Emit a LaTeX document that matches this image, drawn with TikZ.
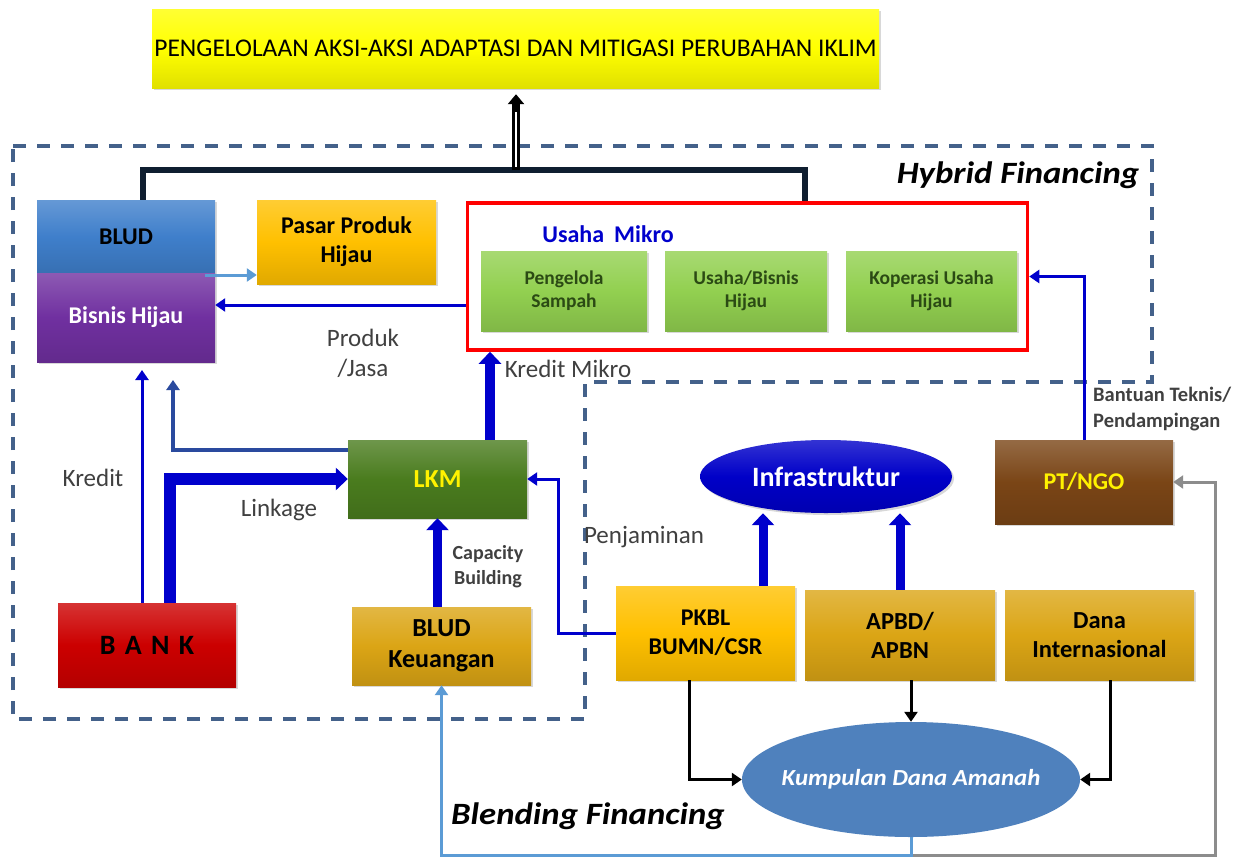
\documentclass[tikz,border=0pt]{standalone}
\usepackage{fontspec}
\usepackage{graphicx}
\setmainfont{Carlito}
\usetikzlibrary{arrows.meta,shapes.geometric,shadows}
\newcommand{\fsz}[2]{\fontsize{#1}{#2}\selectfont}
\definecolor{cBanner}{HTML}{FFFF00}
\definecolor{cBlud}{HTML}{3F7FCB}
\definecolor{cPurple}{HTML}{7030A0}
\definecolor{cGold}{HTML}{FFC000}
\definecolor{cDGold}{HTML}{DBA515}
\definecolor{cLGreen}{HTML}{92D050}
\definecolor{cGText}{HTML}{2B4A14}
\definecolor{cLkm}{HTML}{4A7C1E}
\definecolor{cBank}{HTML}{CC0000}
\definecolor{cBrown}{HTML}{7A4516}
\definecolor{cInfra}{HTML}{0000C8}
\definecolor{cKda}{HTML}{4F81BD}
\definecolor{cArrow}{HTML}{0000CC}
\definecolor{cSlate}{HTML}{2A4A9E}
\definecolor{cDash}{HTML}{44618A}
\definecolor{cBus}{HTML}{0F1E30}
\definecolor{cLBlue}{HTML}{5B9BD5}
\definecolor{cGray}{HTML}{8C8C8C}
\definecolor{cText}{HTML}{404040}
\definecolor{cRed}{HTML}{FF0000}
\definecolor{cTitle}{HTML}{0000CC}
\tikzset{
  bev/.style={top color=#1!80!white, bottom color=#1!88!black, middle color=#1},
  box/.style={rectangle, inner sep=0pt, align=center, text=black,
    font=\fsz{24}{29}, drop shadow={shadow xshift=2pt, shadow yshift=-2pt, opacity=0.3}},
  bbox/.style={box, font=\bfseries\fsz{24}{29}},
  gbox/.style={box, bev=cLGreen, font=\bfseries\fsz{19.5}{23}, text=cGText,
    minimum height=80pt},
  lab/.style={inner sep=0pt, align=center, text=cText, font=\fsz{25}{30}},
  fat/.style={draw=cArrow, line width=10pt, -{Triangle[length=12pt,width=22pt]}},
  thinarr/.style={draw=cArrow, line width=3pt, -{Triangle[length=10pt,width=13pt]}},
  slatearr/.style={draw=cSlate, line width=3.5pt, -{Triangle[length=10pt,width=13pt]}},
  blk/.style={draw=black, line width=3pt, -{Triangle[length=10pt,width=13pt]}},
  lbarr/.style={draw=cLBlue, line width=3pt, -{Triangle[length=10pt,width=13pt]}},
  grarr/.style={draw=cGray, line width=3pt, -{Triangle[length=10pt,width=13pt]}},
  busline/.style={draw=cBus, line width=6pt},
  dashbox/.style={draw=cDash, line width=3.2pt, dash pattern=on 13pt off 11pt}
}
\begin{document}
\begin{tikzpicture}[x=1pt,y=-1pt]
\useasboundingbox (0,0) rectangle (1253,857);
\fill[white] (0,0) rectangle (1253,857);

% dashed region
\draw[dashbox] (13,146) -- (1152,146) -- (1152,382) -- (585,382) -- (585,719) -- (13,719) -- cycle;

% nodes
\node[box, bev=cBanner, minimum width=727pt, minimum height=79pt, font=\fsz{25.5}{30}] (banner) at (515.5,48.5)
  {PENGELOLAAN AKSI-AKSI ADAPTASI DAN MITIGASI PERUBAHAN IKLIM};
\node[bbox, bev=cBlud, minimum width=178pt, minimum height=73pt] (blud) at (126,236.5) {BLUD};
\node[bbox, bev=cPurple, text=white, minimum width=178pt, minimum height=89pt] (bisnis) at (126,317.5) {Bisnis Hijau};
\node[bbox, bev=cGold, minimum width=179pt, minimum height=84pt] (pasar) at (346.5,242) {Pasar Produk\\Hijau};
\node[rectangle, draw=cRed, line width=3.5pt, fill=white, minimum width=560pt, minimum height=147pt] (um) at (747.5,276.5) {};
\node[inner sep=0pt, text=cTitle, font=\bfseries\fsz{24}{28}] (umtitle) at (608,234) {Usaha\hspace{10pt}Mikro};
\node[gbox, minimum width=166pt] (g1) at (564,291) {Pengelola\\Sampah};
\node[gbox, minimum width=162pt] (g2) at (746,291) {Usaha/Bisnis\\Hijau};
\node[gbox, minimum width=171pt] (g3) at (931.5,291) {Koperasi Usaha\\Hijau};
\node[bbox, bev=cLkm, text=yellow, minimum width=179pt, minimum height=78pt, font=\bfseries\fsz{26}{30}] (lkm) at (437.5,479) {LKM};
\node[bbox, bev=cBank, minimum width=178pt, minimum height=84pt, font=\bfseries\fsz{28}{32}] (bank) at (147,645) {B\,\,A\,\,N\,\,K};
\node[bbox, bev=cDGold, minimum width=179pt, minimum height=78pt, font=\bfseries\fsz{26}{31}] (bludk) at (441.5,646) {BLUD\\Keuangan};
\node[ellipse, inner sep=0pt, bev=cInfra, text=white, font=\bfseries\fsz{28}{32}, minimum width=252pt, minimum height=73pt,
  drop shadow={shadow xshift=2pt, shadow yshift=-2pt, opacity=0.3}] (infra) at (826,476.5) {Infrastruktur};
\node[bbox, bev=cBrown, text=yellow, minimum width=178pt, minimum height=84pt] (ptngo) at (1084,482) {PT/NGO};
\node[bbox, bev=cGold, minimum width=179pt, minimum height=94pt, font=\bfseries\fsz{24}{29}] (pkbl) at (705.5,633) {PKBL\\BUMN/CSR};
\node[bbox, bev=cDGold, minimum width=190pt, minimum height=90pt, font=\bfseries\fsz{24.5}{29}] (apbd) at (900,635) {APBD/\\APBN};
\node[bbox, bev=cDGold, minimum width=189pt, minimum height=90pt, font=\bfseries\fsz{24.5}{29}] (dana) at (1099.5,635) {Dana\\Internasional};
\node[ellipse, inner ysep=0pt, inner xsep=-60pt, fill=cKda, text=white, font=\bfseries\itshape\fsz{23}{27}, minimum width=338pt, minimum height=115pt] (kda) at (911,779.5) {\scalebox{1.08}[1]{Kumpulan Dana Amanah}};

% labels
\node[inner sep=0pt, font=\bfseries\itshape\fsz{31}{36}] (hyb) at (1018,175) {\scalebox{1.12}[1]{Hybrid Financing}};
\node[inner sep=0pt, font=\bfseries\itshape\fsz{31}{36}] (blend) at (588,816) {\scalebox{1.12}[1]{Blending Financing}};
\node[lab] (produk) at (363,353) {Produk\\/Jasa};
\node[lab] (kmikro) at (568,369) {Kredit Mikro};
\node[lab] (kredit) at (93,478) {Kredit};
\node[lab] (linkage) at (279,510) {Linkage};
\node[lab, font=\bfseries\fsz{20}{25}] (capb) at (488,567) {Capacity\\Building};
\node[lab] (penj) at (644,537) {Penjaminan};
\node[lab, font=\bfseries\fsz{20.5}{26}, anchor=west, align=left] (bantuan) at (1093,409) {Bantuan Teknis/\\Pendampingan};

% bus to banner
\coordinate (bl) at (143,170);
\coordinate (br) at (804.5,170);
\coordinate (busmid) at (516,170);
\coordinate (hwtop) at (516,112);
\coordinate (hwbot) at (516,167);
\draw[busline] (blud.north -| bl) -- (bl) -- (br) -- (um.north -| br);
\draw[draw=black, line width=8pt, -{Triangle[length=10pt,width=16pt]}, shorten >=6pt] (busmid) -- (banner.south -| busmid);
\draw[white, line width=2.5pt] (hwbot) -- (hwtop);

% blue connectors
\coordinate (ybp) at (0,275);
\draw[lbarr, shorten <=-10pt] (blud.east |- ybp) -- (pasar.west |- ybp);
\coordinate (yub) at (0,305);
\draw[thinarr] (um.west |- yub) -- (bisnis.east |- yub);
\coordinate (xkm) at (490,0);
\draw[fat] (lkm.north -| xkm) -- (um.south -| xkm);
\coordinate (xkr) at (142,370);
\draw[thinarr] (bank.north -| xkr) -- (xkr);
\coordinate (xlb) at (173,380);
\coordinate (ylb) at (0,450);
\draw[slatearr] (lkm.west |- ylb) -| (xlb);
\coordinate (xlk) at (170,0);
\draw[fat, line width=12pt] (bank.north -| xlk) |- (lkm.west);
\draw[fat, line width=9pt] (bludk.north -| lkm.south) -- (lkm.south);
\coordinate (xpj) at (558,0);
\draw[thinarr] (pkbl.west) -| (xpj |- lkm.east) -- (lkm.east);
\coordinate (xi1) at (763,0);
\coordinate (xi2) at (900,0);
\draw[fat, line width=9pt] (pkbl.north -| xi1) -- (infra.south -| xi1);
\draw[fat, line width=9pt] (apbd.north -| xi2) -- (infra.south -| xi2);
\coordinate (xbt) at (1084,0);
\draw[thinarr] (ptngo.north -| xbt) |- (um.east);

% black connectors
\coordinate (xb1) at (689,0);
\draw[blk] (pkbl.south -| xb1) |- (kda.west);
\draw[blk] (apbd.south -| kda.north) -- (kda.north);
\coordinate (xb3) at (1110,0);
\draw[blk] (dana.south -| xb3) |- (kda.east);

% bottom return lines
\coordinate (ybot) at (0,855);
\coordinate (xgr) at (1215,0);
\draw[grarr] (kda.south |- ybot) -| (xgr |- ptngo.east) -- (ptngo.east);
\draw[lbarr] (kda.south) -- (kda.south |- ybot) -| (bludk.south);
\end{tikzpicture}
\end{document}
